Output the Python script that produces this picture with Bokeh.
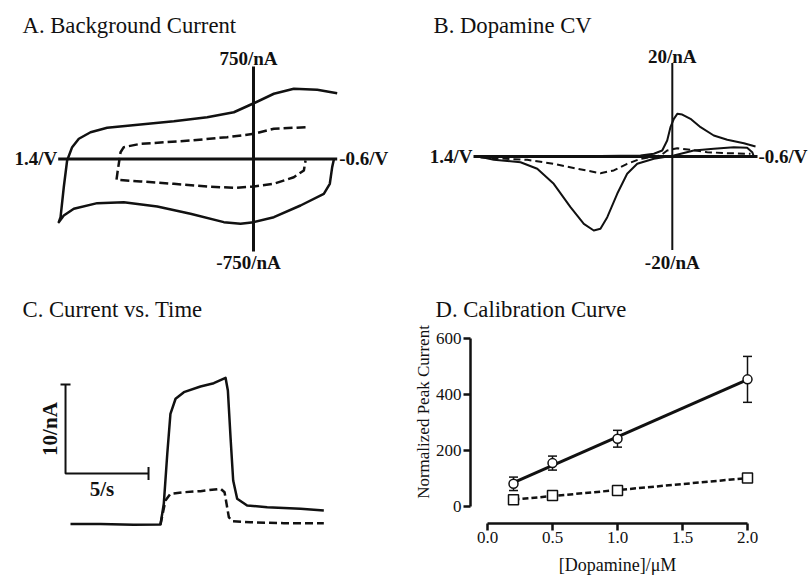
import math
import numpy as np
from bokeh.plotting import figure
from bokeh.models import (Range1d, Label, ColumnDataSource, Whisker, TeeHead,
                          FixedTicker, PrintfTickFormatter, LinearAxis)
from bokeh.embed import file_html
from bokeh.resources import INLINE

SERIF = "Liberation Serif"
INK = "#111111"

# ---------------- Panel A: background current (V, nA) ----------------
A_AXIS_V = [1.4, -0.6]
A_AXIS_I = [750, -750]
A_SOLID_V = [-0.600, -0.457, -0.289, -0.146, -0.002, 0.141, 0.332, 0.571, 0.810, 1.049,
             1.168, 1.252, 1.300, 1.336, 1.360, 1.383, 1.396, 1.360, 1.288, 1.120,
             0.930, 0.690, 0.452, 0.213, 0.093, -0.002, -0.146, -0.337, -0.504, -0.547,
             -0.564, -0.576]
A_SOLID_I = [533, 561, 569, 529, 452, 379, 339, 306, 280, 253,
             217, 164, 96, -12, -229, -472, -512, -458, -404, -358,
             -350, -385, -444, -512, -525, -512, -472, -377, -282, -201,
             -66, -4]
A_DASH_V = [-0.373, -0.146, -0.002, 0.189, 0.452, 0.810, 0.930, 0.953, 0.961, 0.973,
            0.982, 0.810, 0.571, 0.332, 0.141, -0.002, -0.146, -0.289, -0.361, -0.373]
A_DASH_I = [258, 245, 204, 177, 150, 123, 96, 55, -4, -93,
            -169, -182, -201, -223, -234, -223, -201, -148, -93, -12]

# ---------------- Panel B: dopamine CV (V, nA) ----------------
B_AXIS_V = [1.4, -0.6]
B_AXIS_I = [20, -20]
B_SOLID_V = [-0.586, -0.504, -0.387, -0.292, -0.199, -0.128, -0.070, -0.035, -0.011, 0.013,
             0.036, 0.071, 0.130, 0.224, 0.506, 1.069, 1.363, 1.257, 1.069, 0.951,
             0.835, 0.717, 0.623, 0.553, 0.506, 0.458, 0.388, 0.318, 0.247, 0.130,
             -0.011, -0.151, -0.292, -0.433, -0.527, -0.563, -0.574]
B_SOLID_I = [2.14, 2.85, 3.57, 4.49, 6.27, 8.06, 8.98, 9.13, 8.06, 6.27,
             3.42, 1.28, 0.58, 0.21, 0.10, 0.0, 0.0, -0.71, -1.22, -2.63,
             -5.84, -10.84, -14.40, -15.83, -15.47, -12.98, -7.98, -3.70, -1.56, -0.49,
             0.21, 1.28, 1.65, 1.99, 1.86, 0.92, 0.0]
B_DASH_V = [1.351, 1.022, 0.835, 0.670, 0.506, 0.412, 0.318, 0.224, 0.083, 0.036,
            -0.035, -0.128, -0.246, -0.387, -0.551]
B_DASH_I = [-0.21, -0.71, -1.56, -2.63, -3.57, -2.99, -1.56, -0.49, 0.21, 1.28,
            1.78, 1.43, 0.92, 0.71, 0.58]

# ---------------- Panel C: current vs time (s, nA) ----------------
C_SOLID_T = [0, 1.81, 3.80, 5.42, 5.62, 5.83, 6.02, 6.33, 6.83, 7.83,
             8.63, 9.34, 9.48, 9.64, 9.80, 10.04, 10.64, 11.85, 13.86, 15.26]
C_SOLID_I = [0, 0, -0.09, -0.06, 2.27, 7.89, 12.38, 14.07, 14.81, 15.45,
             15.82, 16.43, 15.0, 9.75, 4.89, 2.83, 2.08, 1.89, 1.71, 1.52]
C_DASH_T = [5.42, 5.72, 6.02, 6.83, 7.83, 9.04, 9.28, 9.40, 9.54, 9.74, 10.84, 12.85, 15.26]
C_DASH_I = [-0.06, 2.64, 3.39, 3.57, 3.69, 3.96, 3.57, 2.27, 0.76, 0.31, 0.20, 0.09, 0.09]
SB_T0, SB_I0 = -0.3, 5.67      # scale-bar corner
SB_DT, SB_DI = 5.0, 10.0       # 5 s, 10 nA

# ---------------- Panel D: calibration curve ----------------
D_CONC = [0.2, 0.5, 1.0, 2.0]
D_CIRCLE = [81, 155, 242, 454]
D_CIRCLE_ERR = [24, 25, 30, 82]
D_SQUARE = [24, 39, 57, 102]
D_X_TICKS = [0.0, 0.5, 1.0, 1.5, 2.0]
D_Y_TICKS = [0, 200, 400, 600]
D_AXIS_X = -0.1308   # where the (detached) y axis sits
D_AXIS_Y = -60.7     # where the (detached) x axis sits

# one canvas, four panels, each with its own pair of ranges
p = figure(width=810, height=577, x_range=Range1d(1.8136, -3.9928),
           y_range=Range1d(-3393.2, 1285.1), x_axis_type=None, y_axis_type=None,
           toolbar_location=None, output_backend="svg", min_border=0,
           outline_line_color=None)
p.extra_x_ranges = {"B": Range1d(4.7310, -0.9732), "C": Range1d(-4.2169, 44.578),
                    "D": Range1d(-3.7462, 2.4846)}
p.extra_y_ranges = {"B": Range1d(-90.053, 33.369), "C": Range1d(-6.011, 58.820),
                    "D": Range1d(-253.6, 1807.1)}


def on(name):
    return {} if name == "A" else dict(x_range_name=name, y_range_name=name)


def add_label(name, text, x, y, size="19px", style="bold", **kw):
    p.add_layout(Label(x=x, y=y, text=text, text_font=SERIF, text_font_size=size,
                       text_font_style=style, text_color=INK, **on(name), **kw))


def add_title(text, x, y):
    p.add_layout(Label(x=x, y=y, x_units="screen", y_units="screen", text=text,
                       text_font=SERIF, text_font_size="22.7px", text_color=INK,
                       text_baseline="middle", text_align="left"))


# ---- A ----
p.line(A_AXIS_V, [0, 0], line_width=3, color=INK)
p.line([0, 0], A_AXIS_I, line_width=3, color=INK)
p.line(A_SOLID_V, A_SOLID_I, line_width=2.5, color=INK, line_join="round")
p.line(A_DASH_V, A_DASH_I, line_width=2.5, color=INK, line_dash="9 4", line_join="round")
add_label("A", "1.4/V", A_AXIS_V[0], 0, text_align="right", text_baseline="middle", x_offset=-1)
add_label("A", "-0.6/V", A_AXIS_V[1], 0, text_align="left", text_baseline="middle", x_offset=2)
add_label("A", "750/nA", 0, A_AXIS_I[0], text_align="center", text_baseline="middle",
          x_offset=-5, y_offset=8)
add_label("A", "-750/nA", 0, A_AXIS_I[1], text_align="center", text_baseline="top",
          x_offset=-5, y_offset=-1)
add_title("A. Background Current", 22, 552)

# ---- B ----
p.line(B_AXIS_V, [0, 0], line_width=3, color=INK, **on("B"))
p.line([0, 0], B_AXIS_I, line_width=2, color=INK, **on("B"))
p.line(B_DASH_V, B_DASH_I, line_width=2, color=INK, line_dash="7 4", line_join="round", **on("B"))
p.line(B_SOLID_V, B_SOLID_I, line_width=2, color=INK, line_join="round", **on("B"))
add_label("B", "1.4/V", B_AXIS_V[0], 0, text_align="right", text_baseline="middle", x_offset=-1)
add_label("B", "-0.6/V", B_AXIS_V[1], 0, text_align="left", text_baseline="middle", x_offset=1)
add_label("B", "20/nA", 0, B_AXIS_I[0], text_align="center", text_baseline="middle",
          y_offset=7)
add_label("B", "-20/nA", 0, B_AXIS_I[1], text_align="center", text_baseline="top",
          y_offset=-2)
add_title("B. Dopamine CV", 433, 552)

# ---- C ----
p.line([SB_T0, SB_T0, SB_T0 + SB_DT], [SB_I0 + SB_DI, SB_I0, SB_I0], line_width=2,
       color=INK, **on("C"))
p.scatter([SB_T0], [SB_I0 + SB_DI], marker="dash", size=10, line_width=2, line_color=INK,
          **on("C"))
p.scatter([SB_T0 + SB_DT], [SB_I0], marker="dash", angle=math.pi / 2, size=13,
          line_width=2, line_color=INK, **on("C"))
p.line(C_DASH_T, C_DASH_I, line_width=2.5, color=INK, line_dash="8 4", line_join="round",
       **on("C"))
p.line(C_SOLID_T, C_SOLID_I, line_width=2.5, color=INK, line_join="round", **on("C"))
# rotated label: centre it 16 px left of the vertical bar (16.6 px per second)
add_label("C", "10/nA", SB_T0 - 16 / 16.6, SB_I0 + SB_DI / 2, size="21px", angle=math.pi / 2,
          text_align="center", text_baseline="middle")
add_label("C", "5/s", SB_T0 + SB_DT / 2, SB_I0, size="21px", text_align="center",
          text_baseline="top", x_offset=-5, y_offset=-3)
add_title("C. Current vs. Time", 22, 268.5)

# ---- D ----
def style_axis(ax):
    ax.axis_line_width = 2.5
    ax.axis_line_color = INK
    ax.major_tick_line_width = 2.5
    ax.major_tick_line_color = INK
    ax.major_tick_in = 0
    ax.major_tick_out = 7
    ax.minor_tick_line_color = None
    ax.major_label_text_font = SERIF
    ax.major_label_text_font_size = "17px"
    ax.major_label_text_color = INK
    ax.major_label_standoff = 2


x_axis = LinearAxis(fixed_location=D_AXIS_Y, bounds=(D_X_TICKS[0], D_X_TICKS[-1]),
                    ticker=FixedTicker(ticks=D_X_TICKS),
                    formatter=PrintfTickFormatter(format="%.1f"), **on("D"))
y_axis = LinearAxis(fixed_location=D_AXIS_X, bounds=(D_Y_TICKS[0], D_Y_TICKS[-1]),
                    ticker=FixedTicker(ticks=D_Y_TICKS), **on("D"))
style_axis(x_axis)
style_axis(y_axis)
p.add_layout(x_axis, "below")
p.add_layout(y_axis, "left")

add_label("D", "[Dopamine]/\u03bcM", (D_X_TICKS[0] + D_X_TICKS[-1]) / 2, D_AXIS_Y,
          size="18px", style="normal", text_align="center", text_baseline="middle",
          y_offset=-42)
# rotated label: centre it 47 px left of the y axis (130 px per uM)
add_label("D", "Normalized Peak Current", D_AXIS_X - 47 / 130, 337.5, size="17px",
          style="normal", angle=math.pi / 2, text_align="center", text_baseline="middle")

fit_c = np.polyfit(D_CONC, D_CIRCLE, 1)
fit_s = np.polyfit(D_CONC, D_SQUARE, 1)
fit_x = [D_CONC[0], D_CONC[-1]]
p.line(fit_x, np.polyval(fit_c, fit_x), line_width=3, color=INK, **on("D"))
p.line(fit_x, np.polyval(fit_s, fit_x), line_width=2.5, color=INK, line_dash="6 3", **on("D"))

err_src = ColumnDataSource(dict(
    x=D_CONC,
    upper=[v + e for v, e in zip(D_CIRCLE, D_CIRCLE_ERR)],
    lower=[v - e for v, e in zip(D_CIRCLE, D_CIRCLE_ERR)],
))
p.add_layout(Whisker(source=err_src, base="x", upper="upper", lower="lower",
                     dimension="height", line_width=1.5, line_color=INK,
                     upper_head=TeeHead(size=9, line_width=1.5, line_color=INK),
                     lower_head=TeeHead(size=9, line_width=1.5, line_color=INK),
                     **on("D")))
p.scatter(D_CONC, D_CIRCLE, marker="circle", size=9, fill_color="white",
          line_color=INK, line_width=1.5, **on("D"))
p.scatter(D_CONC, D_SQUARE, marker="square", size=10, fill_color="white",
          line_color=INK, line_width=1.5, **on("D"))
add_title("D. Calibration Curve", 435, 268.5)

open("out.html", "w").write(file_html(p, INLINE))
